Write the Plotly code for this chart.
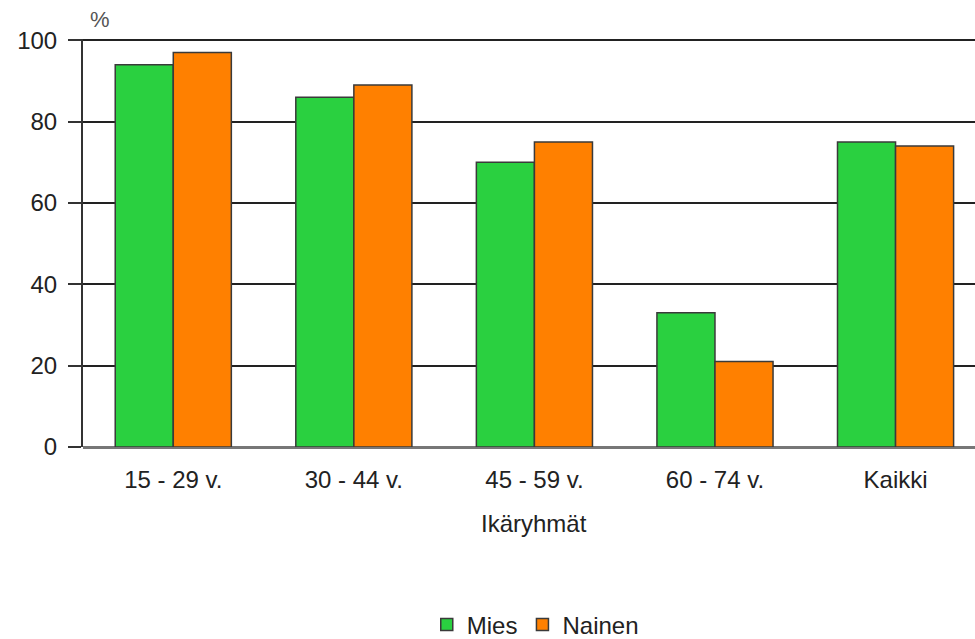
import plotly.graph_objects as go

# Age groups and shares (%) by sex
categories = ["15 - 29 v.", "30 - 44 v.", "45 - 59 v.", "60 - 74 v.", "Kaikki"]
mies = [94, 86, 70, 33, 75]
nainen = [97, 89, 75, 21, 74]
y_ticks = [0, 20, 40, 60, 80, 100]

FONT = "Liberation Sans, Arial, sans-serif"
TEXT = "#222222"

fig = go.Figure()
fig.add_trace(go.Bar(
    name="Mies", x=categories, y=mies,
    marker=dict(color="#2ad040", line=dict(color="#3a3a3a", width=1.5)),
))
fig.add_trace(go.Bar(
    name="Nainen", x=categories, y=nainen,
    marker=dict(color="#ff8000", line=dict(color="#3a3a3a", width=1.5)),
))

fig.update_layout(
    width=975, height=639,
    margin=dict(l=83, r=0, t=39, b=192, autoexpand=False),
    paper_bgcolor="white", plot_bgcolor="white",
    barmode="group", bargap=0.357, bargroupgap=0,
    font=dict(family=FONT, size=24, color=TEXT),
    showlegend=True,
    legend=dict(
        orientation="h", xref="container", yref="container",
        x=0.549, xanchor="center", y=0.022, yanchor="middle",
        font=dict(size=24, color=TEXT), itemwidth=30, tracegroupgap=0,
    ),
    xaxis=dict(
        range=[-0.5, 4.44], showgrid=False, zeroline=False,
        showline=False, ticks="", ticklabelstandoff=16,
        tickfont=dict(size=24, color=TEXT),
    ),
    yaxis=dict(
        range=[0, 100.3], tickvals=y_ticks, showgrid=True,
        gridcolor="#222222", gridwidth=2,
        zeroline=True, zerolinecolor="#777777", zerolinewidth=3,
        showline=True, linecolor="#333333", linewidth=2,
        ticks="outside", ticklen=13, tickcolor="#333333", tickwidth=2,
        ticklabelstandoff=6,
        tickfont=dict(size=24, color=TEXT),
    ),
    annotations=[
        dict(text="%", xref="paper", yref="paper", x=0.019, y=1.047,
             xanchor="center", yanchor="middle", showarrow=False,
             font=dict(size=22, color="#555555")),
        dict(text="Ikäryhmät", xref="x", yref="paper", x=2, y=-0.187,
             xanchor="center", yanchor="middle", showarrow=False,
             font=dict(size=24, color=TEXT)),
    ],
)

fig.write_html("out.html")
